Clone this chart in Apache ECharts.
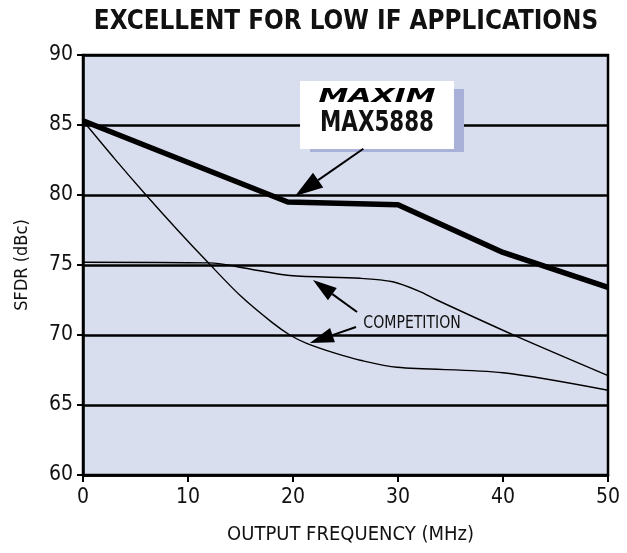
<!DOCTYPE html>
<html>
<head>
<meta charset="utf-8">
<script src="https://cdn.jsdelivr.net/npm/echarts@6/dist/echarts.min.js"></script>
<style>
html,body{margin:0;padding:0;background:#fff;}
#c{width:627px;height:553px;}
</style>
</head>
<body>
<div id="c"></div>
<script>
// ---- data ----
var titleText = 'EXCELLENT FOR LOW IF APPLICATIONS';
var xTicks = [0, 10, 20, 30, 40, 50];
var yTicks = [60, 65, 70, 75, 80, 85, 90];
var max5888Freq = [0, 19.5, 30, 40, 50];
var max5888Sfdr = [85.3, 79.5, 79.3, 75.9, 73.4];
var compAFreq = [0, 12, 16, 19.7, 26.4, 29.5, 32.1, 33.7, 41.3, 50];
var compASfdr = [75.2, 75.15, 74.7, 74.25, 74.05, 73.8, 73.1, 72.5, 69.9, 67.1];
var compBFreq = [0, 3, 6, 9, 12, 15, 18, 19.7, 21.3, 24, 26.4, 29.9, 40, 50];
var compBSfdr = [85.3, 82.6, 80.0, 77.5, 75.1, 72.8, 70.9, 70.0, 69.4, 68.7, 68.2, 67.7, 67.3, 66.05];

function pairs(xs, ys){ return xs.map(function(x,i){ return [x, ys[i]]; }); }

var FONT = "'Liberation Sans Narrow','DejaVu Sans Condensed','Liberation Sans',sans-serif";
var chart = echarts.init(document.getElementById('c'), null, {renderer:'canvas'});

var option = {
  backgroundColor: '#ffffff',
  animation: false,
  grid: {left: 83, right: 19, top: 55, bottom: 78, show: true, backgroundColor: '#d9deef',
         borderColor: '#000', borderWidth: 2.5},
  xAxis: {
    type: 'value', min: 0, max: 50, interval: 10,
    name: 'OUTPUT FREQUENCY (MHz)', nameLocation: 'middle', nameGap: 50,
    nameTextStyle: {fontFamily: FONT, fontSize: 20, color: '#111', padding: [0, 0, 0, 10]},
    axisLine: {show: true, lineStyle: {color: '#000', width: 2.5}},
    axisTick: {show: true, inside: false, length: 7, lineStyle: {color: '#000', width: 2}},
    axisLabel: {fontFamily: FONT, fontSize: 21, color: '#111', margin: 12,
                formatter: function(v){ return xTicks.indexOf(v) >= 0 ? String(v) : ''; }},
    splitLine: {show: false}
  },
  yAxis: {
    type: 'value', min: 60, max: 90, interval: 5,
    name: 'SFDR (dBc)', nameLocation: 'middle', nameGap: 52,
    nameTextStyle: {fontFamily: FONT, fontSize: 18, color: '#111'},
    axisLine: {show: true, lineStyle: {color: '#000', width: 2.5}},
    axisTick: {show: true, inside: false, length: 6, lineStyle: {color: '#000', width: 2}},
    axisLabel: {fontFamily: FONT, fontSize: 21, color: '#111', margin: 10,
                formatter: function(v){ return yTicks.indexOf(v) >= 0 ? String(v) : ''; }},
    splitLine: {show: true, lineStyle: {color: '#000', width: 2.5}}
  },
  series: [
    {type: 'line', name: 'MAX5888', data: pairs(max5888Freq, max5888Sfdr), symbol: 'none',
     lineStyle: {color: '#000', width: 5.5}, z: 5},
    {type: 'line', name: 'Competition A', data: pairs(compAFreq, compASfdr), symbol: 'none', smooth: 0.3,
     lineStyle: {color: '#000', width: 1.4}, z: 4},
    {type: 'line', name: 'Competition B', data: pairs(compBFreq, compBSfdr), symbol: 'none', smooth: 0.3,
     lineStyle: {color: '#000', width: 1.4}, z: 4}
  ]
};
chart.setOption(option);

function px(x, y){ return chart.convertToPixel({gridIndex: 0}, [x, y]); }

function arrow(tail, tip, headLen, headW){
  var a = px(tail[0], tail[1]), b = px(tip[0], tip[1]);
  var dx = b[0]-a[0], dy = b[1]-a[1], L = Math.sqrt(dx*dx+dy*dy);
  var ux = dx/L, uy = dy/L, nx = -uy, ny = ux;
  var bx = b[0]-ux*headLen, by = b[1]-uy*headLen;
  return [
    {type: 'line', shape: {x1: a[0], y1: a[1], x2: bx, y2: by}, style: {stroke: '#000', lineWidth: 2}, z: 20},
    {type: 'polygon', shape: {points: [[b[0], b[1]], [bx+nx*headW/2, by+ny*headW/2], [bx-nx*headW/2, by-ny*headW/2]]},
     style: {fill: '#000'}, z: 20}
  ];
}

var boxTL = px(20.67, 88.14), boxBR = px(35.33, 83.29);
var shTL = [boxTL[0]+10, boxTL[1]+8], shBR = [boxBR[0]+10, boxBR[1]+3];
var cx = (boxTL[0]+boxBR[0])/2;

var g = [
  {type: 'text', x: 346, y: 22, z: 21, scaleX: 0.955,
   style: {text: titleText, fontFamily: FONT, fontWeight: 'bold', fontSize: 27,
           fill: '#111', align: 'center', verticalAlign: 'middle'}},
  {type: 'rect', shape: {x: shTL[0], y: shTL[1], width: shBR[0]-shTL[0], height: shBR[1]-shTL[1]},
   style: {fill: '#a9b1d9'}, z: 18},
  {type: 'rect', shape: {x: boxTL[0], y: boxTL[1], width: boxBR[0]-boxTL[0], height: boxBR[1]-boxTL[1]},
   style: {fill: '#ffffff'}, z: 19},
  {type: 'text', x: cx, y: boxTL[1]+16, z: 21, scaleX: 1.75,
   style: {text: 'MAXIM', fontFamily: FONT, fontWeight: 'bold', fontStyle: 'italic', fontSize: 19,
           fill: '#000', align: 'center', verticalAlign: 'middle'}},
  {type: 'text', x: cx, y: boxTL[1]+42, z: 21, scaleX: 0.82,
   style: {text: 'MAX5888', fontFamily: FONT, fontWeight: 'bold', fontSize: 29,
           fill: '#111', align: 'center', verticalAlign: 'middle'}},
  {type: 'text', x: px(26.7, 0)[0], y: px(0, 70.8)[1], z: 21, scaleX: 0.92,
   style: {text: 'COMPETITION', fontFamily: FONT, fontSize: 17, fill: '#111',
           align: 'left', verticalAlign: 'middle'}}
];
g = g.concat(arrow([26.7, 83.3], [20.2, 79.93], 28, 18));
g = g.concat(arrow([26.1, 71.64], [21.9, 73.93], 24, 15));
g = g.concat(arrow([26.0, 70.57], [21.6, 69.43], 24, 15));

chart.setOption({graphic: g});
</script>
</body>
</html>
